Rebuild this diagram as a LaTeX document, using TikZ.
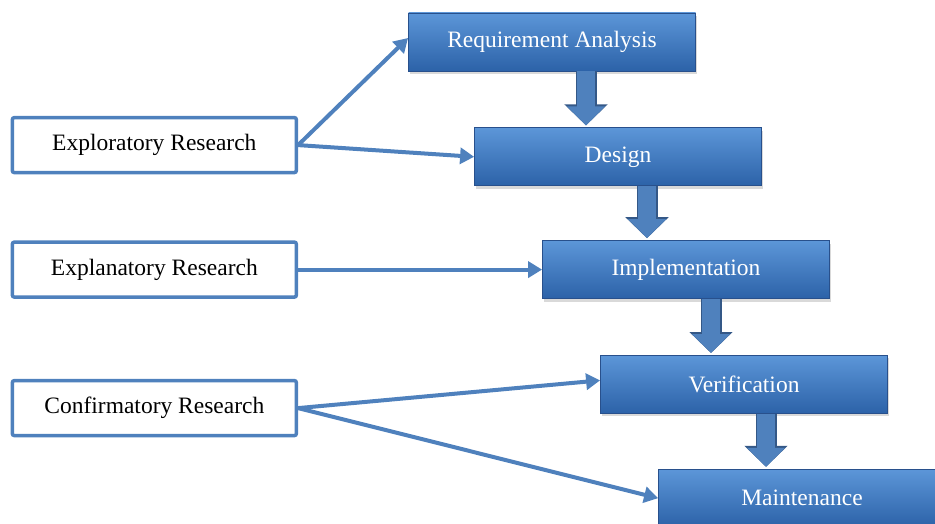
\documentclass[tikz,border=0pt]{standalone}
\usepackage{fontspec}
\setmainfont{Liberation Serif}
\usetikzlibrary{positioning,arrows.meta,shadows}
\definecolor{stagetop}{RGB}{92,150,216}
\definecolor{stagebot}{RGB}{44,98,168}
\definecolor{stageedge}{RGB}{40,80,140}
\definecolor{linkblue}{RGB}{79,129,189}
\definecolor{flowedge}{RGB}{52,88,135}

\begin{document}
\begin{tikzpicture}[
    x=1pt, y=-1pt,
    stage/.style={rectangle, draw=stageedge, line width=0.8pt, top color=stagetop, bottom color=stagebot,
        minimum width=287pt, minimum height=58pt, text=white, font=\fontsize{23.5}{26}\selectfont,
        drop shadow={shadow xshift=1pt, shadow yshift=-3pt, opacity=0.3}},
    research/.style={rectangle, draw=linkblue, line width=3.5pt, rounded corners=2pt, fill=white,
        minimum width=284pt, minimum height=55pt, font=\fontsize{23.5}{26}\selectfont},
    link/.style={draw=linkblue, line width=4pt, -{Triangle[length=14pt,width=16pt]}},
    flow/.style={draw=linkblue, line width=18pt, -{Triangle[length=19pt,width=37pt]},
        preaction={draw=flowedge, line width=21pt, -{Triangle[length=21pt,width=42pt]}}}
]
    \useasboundingbox (0,0) rectangle (935,524);

    % Waterfall stages
    \node[stage] (req) at (552,42) {Requirement Analysis};
    \node[stage, below=56pt of req, xshift=66pt] (design) {Design};
    \node[stage, below=54pt of design, xshift=68pt] (impl) {Implementation};
    \node[stage, below=56pt of impl, xshift=58pt] (verif) {Verification};
    \node[stage, below=55pt of verif, xshift=58pt] (maint) {Maintenance};

    % Research types
    \node[research, left=244pt of impl] (explan) {Explanatory Research};
    \node[research, above=66pt of explan] (explor) {Exploratory Research};
    \node[research, below=80pt of explan] (confirm) {Confirmatory Research};

    % Stage to stage
    \draw[flow] ([xshift=34pt]req.south) -- ([xshift=34pt,yshift=2pt]req.south |- design.north);
    \draw[flow] ([xshift=29pt]design.south) -- ([xshift=29pt,yshift=2pt]design.south |- impl.north);
    \draw[flow] ([xshift=25pt]impl.south) -- ([xshift=25pt,yshift=2pt]impl.south |- verif.north);
    \draw[flow] ([xshift=22pt]verif.south) -- ([xshift=22pt,yshift=2pt]verif.south |- maint.north);

    % Research to stages
    \draw[link] (explor.east) -- ([yshift=4pt]req.west);
    \draw[link] (explor.east) -- (design.west);
    \draw[link] (explan.east) -- (impl.west);
    \draw[link] (confirm.east) -- ([yshift=4pt]verif.west);
    \draw[link] (confirm.east) -- (maint.west);
\end{tikzpicture}
\end{document}
